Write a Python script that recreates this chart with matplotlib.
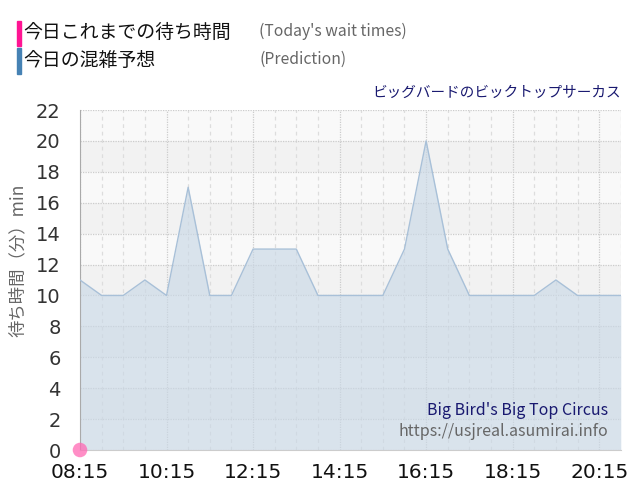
import numpy as np
import matplotlib
matplotlib.use('Agg')
import matplotlib.pyplot as plt

plt.rcParams['font.family'] = ['Noto Sans CJK JP', 'DejaVu Sans']

# data: 30-minute slots from 08:15 to 20:45 (minutes since 08:15)
slot_minutes = list(range(0, 12 * 60 + 31, 30))
prediction = [11, 10, 10, 11, 10, 17, 10, 10, 13, 13, 13, 10, 10, 10,
              10, 13, 20, 13, 10, 10, 10, 10, 11, 10, 10, 10]
actual_minutes = [0]
actual_wait = [0]

tick_labels = ['08:15', '10:15', '12:15', '14:15', '16:15', '18:15', '20:15']
y_ticks = list(range(0, 23, 2))

fig = plt.figure(figsize=(6.4, 5.0), dpi=100)
ax = fig.add_axes([0.125, 0.1, 0.845, 0.68])

x = np.array(slot_minutes)
xmax = x[-1]

# alternating bands
for i, y0 in enumerate(range(0, 22, 2)):
    col = '#f9f9f9' if (y0 // 2) % 2 == 0 else '#f2f2f2'
    ax.axhspan(y0, y0 + 2, color=col, zorder=0, lw=0)

# grid lines
for m in range(0, xmax + 1, 30):
    if m % 120 == 0:
        ax.axvline(m, color='#cccccc', lw=0.9, ls=(0, (1, 1)), zorder=1)
    else:
        ax.axvline(m, color='#dddddd', lw=0.9, ls=(0, (3, 3)), zorder=1)
for yv in y_ticks:
    ax.axhline(yv, color='#cccccc', lw=0.9, ls=(0, (1, 1)), zorder=1)

ax.fill_between(x, prediction, 0, color='#c9d8e6', alpha=0.65, lw=0, zorder=2)
ax.plot(x, prediction, color='#a8c0d8', lw=1.0, zorder=3)

ax.scatter(actual_minutes, actual_wait, s=110, color='#ff69b4', alpha=0.75,
           zorder=5, clip_on=False, edgecolors='none')

ax.set_xlim(0, xmax)
ax.set_ylim(0, 22)
ax.set_xticks(range(0, xmax, 120))
ax.set_xticklabels(tick_labels, fontsize=14.5, color='#111111', family='DejaVu Sans')
ax.set_yticks(y_ticks)
ax.set_yticklabels([str(v) for v in y_ticks], fontsize=14, color='#333333',
                   family='DejaVu Sans')
ax.tick_params(axis='x', length=0, pad=9)
ax.tick_params(axis='y', length=0, pad=14)

for s in ['top', 'right']:
    ax.spines[s].set_visible(False)
ax.spines['left'].set_color('#aaaaaa')
ax.spines['bottom'].set_color('#cccccc')

fig.text(0.028, 0.48, '待ち時間（分）min', rotation=90, fontsize=12.5,
         color='#666666', ha='center', va='center')

# legend-like header
fig.patches.append(plt.Rectangle((0.027, 0.908), 0.006, 0.05, transform=fig.transFigure,
                                 color='#ff1493', figure=fig))
fig.patches.append(plt.Rectangle((0.027, 0.853), 0.006, 0.05, transform=fig.transFigure,
                                 color='#4682b4', figure=fig))
fig.text(0.037, 0.935, '今日これまでの待ち時間', fontsize=13.6, color='#111111', va='center')
fig.text(0.037, 0.880, '今日の混雑予想', fontsize=13.6, color='#111111', va='center')
fig.text(0.405, 0.937, "(Today's wait times)", fontsize=11.3, color='#666666', va='center')
fig.text(0.405, 0.881, '(Prediction)', fontsize=11.3, color='#666666', va='center')

fig.text(0.970, 0.815, 'ビッグバードのビックトップサーカス', fontsize=10.5,
         color='#191970', ha='right', va='center')

ax.text(0.977, 0.115, "Big Bird's Big Top Circus", transform=ax.transAxes,
        fontsize=11.5, color='#191970', ha='right', va='center')
ax.text(0.977, 0.054, 'https://usjreal.asumirai.info', transform=ax.transAxes,
        fontsize=11.5, color='#666666', ha='right', va='center')

fig.savefig('out.png', dpi=100)
